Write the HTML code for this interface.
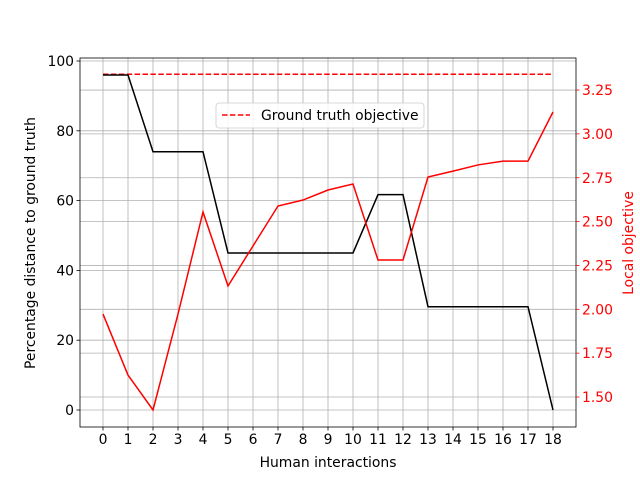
<!DOCTYPE html>
<html><head><meta charset="utf-8"><style>
body{margin:0;background:#fff;}
svg{font-family:"DejaVu Sans","Liberation Sans",sans-serif;}
</style></head><body>
<svg id="chart" width="640" height="480"></svg>
<script>
const xCats=[0,1,2,3,4,5,6,7,8,9,10,11,12,13,14,15,16,17,18];
const distValues=[96,96,74,74,74,45,45,45,45,45,45,61.7,61.7,29.6,29.6,29.6,29.6,29.6,0];
const localValues=[1.973,1.625,1.426,1.973,2.555,2.133,2.361,2.589,2.623,2.68,2.714,2.281,2.281,2.754,2.788,2.823,2.845,2.845,3.125];
const groundTruth=3.34;
const leftTicks=[0,20,40,60,80,100];
const rightTicks=[1.5,1.75,2.0,2.25,2.5,2.75,3.0,3.25];
const rightTickLabels=["1.50","1.75","2.00","2.25","2.50","2.75","3.00","3.25"];

const NS="http://www.w3.org/2000/svg";
const svg=document.getElementById('chart');
const L=80,R=576,T=58,B=427;
const FS=13.9;
const xS=v=>103+v*25;
const yL=v=>410-v*3.49;
const yR=v=>397-(v-1.5)*175.4;
function mk(tag,attrs,parent){const e=document.createElementNS(NS,tag);for(const k in attrs)e.setAttribute(k,attrs[k]);(parent||svg).appendChild(e);return e;}

const grid=mk('g',{});


xCats.forEach(c=>{mk('line',{x1:xS(c),x2:xS(c),y1:T,y2:B,stroke:'#b0b0b0','stroke-width':0.8},grid);});
leftTicks.forEach(t=>{mk('line',{x1:L,x2:R,y1:yL(t),y2:yL(t),stroke:'#b0b0b0','stroke-width':0.8},grid);});
rightTicks.forEach(t=>{mk('line',{x1:L,x2:R,y1:yR(t),y2:yR(t),stroke:'#b0b0b0','stroke-width':0.8},grid);});

const gt=mk('line',{x1:xS(0),x2:xS(18),y1:yR(groundTruth),y2:yR(groundTruth),stroke:'red','stroke-width':1.5,'stroke-dasharray':'5.5,2.4'});



const l1=mk('polyline',{points:distValues.map((v,i)=>xS(xCats[i])+','+yL(v)).join(' '),fill:'none',stroke:'black','stroke-width':1.5});


const l2=mk('polyline',{points:localValues.map((v,i)=>xS(xCats[i])+','+yR(v)).join(' '),fill:'none',stroke:'red','stroke-width':1.5});



const frame=mk('rect',{x:L,y:T,width:R-L,height:B-T,fill:'none',stroke:'black','stroke-width':0.8});



xCats.forEach(c=>{mk('line',{x1:xS(c),x2:xS(c),y1:B,y2:B+3.5,stroke:'black','stroke-width':0.8});
 const t=mk('text',{x:xS(c),y:B+17,'text-anchor':'middle','font-size':FS});t.textContent=c;
 });
leftTicks.forEach(v=>{mk('line',{x1:L-3.5,x2:L,y1:yL(v),y2:yL(v),stroke:'black','stroke-width':0.8});
 const t=mk('text',{x:L-6,y:yL(v)+5,'text-anchor':'end','font-size':FS});t.textContent=v;
 });
rightTicks.forEach((v,i)=>{mk('line',{x1:R,x2:R+3.5,y1:yR(v),y2:yR(v),stroke:'red','stroke-width':0.8});
 const t=mk('text',{x:R+6,y:yR(v)+5,'text-anchor':'start','font-size':FS,fill:'red'});t.textContent=rightTickLabels[i];
 });

let t=mk('text',{x:328,y:467,'text-anchor':'middle','font-size':FS});t.textContent='Human interactions';

t=mk('text',{x:0,y:0,'text-anchor':'middle','font-size':FS,transform:'translate(35,243) rotate(-90)'});t.textContent='Percentage distance to ground truth';

t=mk('text',{x:0,y:0,'text-anchor':'middle','font-size':FS,fill:'red',transform:'translate(633,243) rotate(-90)'});t.textContent='Local objective';


const lg=mk('g',{});


mk('rect',{x:216,y:103,width:208,height:25,rx:3,fill:'white','fill-opacity':0.85,stroke:'#ccc','stroke-width':0.8},lg);
mk('line',{x1:222,x2:250,y1:115,y2:115,stroke:'red','stroke-width':1.5,'stroke-dasharray':'5.5,2.4'},lg);
t=mk('text',{x:261,y:120,'font-size':FS},lg);t.textContent='Ground truth objective';

</script>
</body></html>
